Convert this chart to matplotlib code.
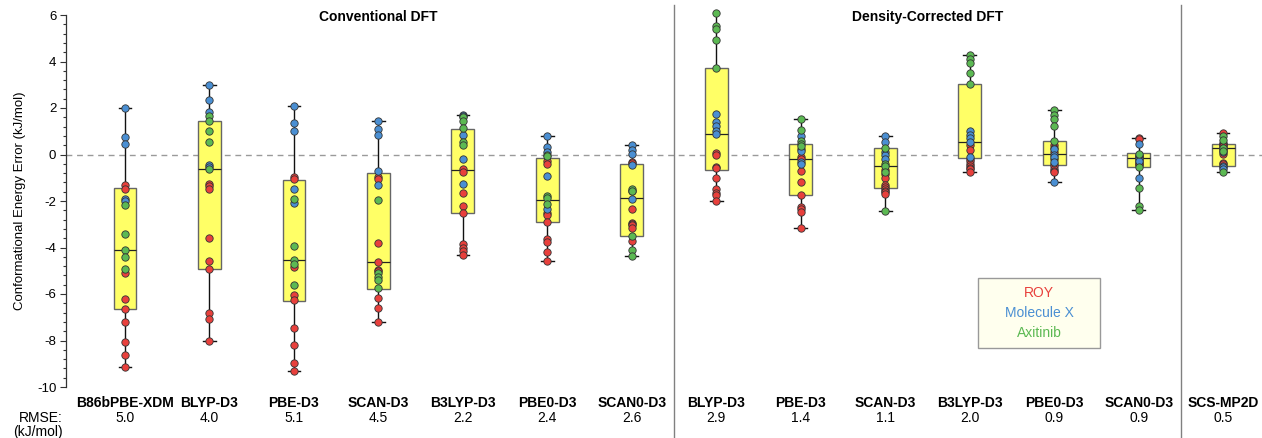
import matplotlib
matplotlib.use("Agg")
import matplotlib.pyplot as plt
import matplotlib.transforms as mtransforms
from matplotlib.patches import Rectangle

plt.rcParams['font.family'] = ['Liberation Sans', 'DejaVu Sans']

methods = ["B86bPBE-XDM", "BLYP-D3", "PBE-D3", "SCAN-D3", "B3LYP-D3", "PBE0-D3", "SCAN0-D3",
           "BLYP-D3", "PBE-D3", "SCAN-D3", "B3LYP-D3", "PBE0-D3", "SCAN0-D3", "SCS-MP2D"]
rmse = ["5.0", "4.0", "5.1", "4.5", "2.2", "2.4", "2.6", "2.9", "1.4", "1.1", "2.0", "0.9", "0.9", "0.5"]

roy_vals = [
    [-1.30, -1.47, -5.11, -6.20, -6.64, -7.19, -8.06, -8.64, -9.13],
    [-1.29, -1.35, -1.47, -3.59, -4.60, -4.91, -6.83, -7.06, -8.04],
    [-0.96, -1.07, -4.86, -6.03, -6.27, -7.46, -8.21, -8.97, -9.33],
    [-0.96, -1.04, -3.79, -4.64, -4.95, -5.00, -6.19, -6.59, -7.21],
    [-0.64, -0.76, -1.64, -2.21, -2.50, -3.86, -4.03, -4.17, -4.31],
    [-0.30, -0.40, -2.50, -2.60, -2.90, -3.64, -3.76, -4.19, -4.60],
    [-0.33, -0.38, -1.57, -2.36, -2.93, -3.00, -3.04, -3.14, -3.71],
    [0.07, 0.00, -0.53, -0.60, -1.00, -1.50, -1.64, -1.76, -2.00],
    [-0.10, -0.21, -0.69, -1.19, -1.76, -2.24, -2.35, -2.47, -3.14],
    [-0.65, -0.86, -1.03, -1.30, -1.39, -1.47, -1.57, -1.62, -1.69],
    [0.39, 0.21, -0.20, -0.29, -0.39, -0.50, -0.58, -0.64, -0.76],
    [0.40, 0.30, 0.11, -0.21, -0.40, -0.50, -0.64, -0.70, -0.76],
    [0.69, 0.65, -0.07, -0.12, -0.16, -0.28, -0.36, -0.42, -0.45],
    [0.93, 0.50, 0.45, 0.40, 0.35, 0.20, 0.04, -0.36, -0.43],
]
molx_vals = [
    [2.00, 0.74, 0.47, -1.90, -1.99],
    [3.01, 2.33, 1.84, -0.46, -0.54],
    [2.10, 1.34, 1.00, -1.50, -2.09],
    [1.43, 1.11, 0.83, -0.71, -1.31],
    [1.71, 1.65, 0.83, -0.21, -1.29],
    [0.81, 0.33, 0.10, -0.91, -2.36],
    [0.39, 0.21, 0.04, -0.44, -1.90],
    [1.76, 1.40, 1.21, 1.03, 0.87],
    [0.79, 0.24, 0.15, -0.31, -0.40],
    [0.81, 0.53, 0.10, -0.03, -0.21],
    [1.03, 0.86, 0.69, 0.53, -0.11],
    [0.24, 0.00, -0.10, -0.33, -1.19],
    [0.47, 0.00, -0.21, -0.30, -1.03],
    [0.30, 0.10, -0.50, -0.54, -0.64],
]
axit_vals = [
    [-2.17, -3.43, -4.10, -4.43, -4.93],
    [1.64, 1.44, 1.03, 0.53, -0.61],
    [-1.90, -3.93, -4.53, -4.71, -5.61],
    [-1.96, -5.11, -5.25, -5.39, -5.76],
    [1.60, 1.45, 1.12, 0.53, 0.39],
    [0.00, -0.07, -1.79, -1.89, -2.14],
    [-1.47, -1.55, -3.50, -4.11, -4.36],
    [6.07, 5.54, 5.40, 4.94, 3.73],
    [1.53, 1.04, 0.57, 0.47, 0.36],
    [0.29, -0.40, -0.50, -0.76, -2.43],
    [4.29, 4.10, 3.93, 3.50, 3.03],
    [1.93, 1.71, 1.54, 1.21, 0.57],
    [0.03, -0.53, -1.43, -2.21, -2.39],
    [0.79, 0.64, 0.26, 0.14, -0.76],
]
# box statistics
q3_vals = [-1.46, 1.44, -1.10, -0.79, 1.10, -0.17, -0.39, 3.74, 0.47, 0.29, 3.03, 0.57, 0.06, 0.47]
med_vals = [-4.11, -0.61, -4.53, -4.64, -0.66, -1.97, -1.89, 0.90, -0.21, -0.51, 0.54, 0.03, -0.16, 0.26]
q1_vals = [-6.64, -4.91, -6.29, -5.79, -2.51, -2.90, -3.50, -0.66, -1.76, -1.44, -0.13, -0.46, -0.54, -0.50]

series_names = ["ROY", "Molecule X", "Axitinib"]

RED = "#E8403C"
BLUE = "#4A8FD3"
GREEN = "#5CB953"
colors = [RED, BLUE, GREEN]

W, H = 1262, 438
fig = plt.figure(figsize=(W / 100, H / 100), dpi=100)
ax = fig.add_axes([66 / W, 1 - 387 / H, 1 - 66 / W, (387 - 15) / H])

positions = list(range(len(methods)))
stats = []
for i in positions:
    allv = roy_vals[i] + molx_vals[i] + axit_vals[i]
    stats.append(dict(med=med_vals[i], q1=q1_vals[i], q3=q3_vals[i],
                      whislo=min(allv), whishi=max(allv), fliers=[]))

ax.axhline(0, color="#9a9a9a", lw=1.0, ls=(0, (4.2, 3.4)), zorder=1)

ax.bxp(stats, positions=positions, widths=0.27, patch_artist=True, showfliers=False,
       capwidths=0.15,
       boxprops=dict(facecolor="#FFFF66", edgecolor="#666666", linewidth=1.0),
       medianprops=dict(color="#222222", linewidth=0.9),
       whiskerprops=dict(color="#111111", linewidth=1.0),
       capprops=dict(color="#111111", linewidth=1.0),
       zorder=2)

for vals, c in zip([roy_vals, molx_vals, axit_vals], colors):
    for i in positions:
        ax.plot([i] * len(vals[i]), vals[i], ls="none", marker="o", ms=5.3,
                mfc=c, mec="#333333", mew=0.6, zorder=3, clip_on=False)

ax.set_xlim(-0.698, 13.46)
ax.set_ylim(-10, 6)
ax.set_yticks(range(-10, 7, 2))
ax.set_yticklabels([str(v) for v in range(-10, 7, 2)])
ax.yaxis.set_minor_locator(matplotlib.ticker.MultipleLocator(0.4))
ax.tick_params(axis="y", which="major", length=4, width=0.8, labelsize=9.5, pad=3, color="#333333")
ax.tick_params(axis="y", which="minor", length=2, width=0.8, color="#333333")
ax.set_xticks([])
for s in ["top", "right", "bottom"]:
    ax.spines[s].set_visible(False)
ax.spines["left"].set_color("#333333")
ax.spines["left"].set_linewidth(0.9)

ax.set_ylabel("Conformational Energy Error (kJ/mol)", fontsize=9.5, labelpad=8)

# section dividers
for xd in [6.5, 12.5]:
    ax.plot([xd, xd], [6.43, -12.2], color="#808080", lw=1.0, clip_on=False, zorder=1)

ax.text(3.0, 0.995, "Conventional DFT", transform=mtransforms.blended_transform_factory(ax.transData, ax.transAxes),
        ha="center", va="center", fontsize=10, fontweight="bold")
ax.text(9.5, 0.995, "Density-Corrected DFT", transform=mtransforms.blended_transform_factory(ax.transData, ax.transAxes),
        ha="center", va="center", fontsize=10, fontweight="bold")

tr = mtransforms.blended_transform_factory(ax.transData, fig.transFigure)
for i in positions:
    ax.text(i, 1 - 403 / H, methods[i], transform=tr, ha="center", va="center",
            fontsize=10, fontweight="bold")
    ax.text(i, 1 - 418 / H, rmse[i], transform=tr, ha="center", va="center", fontsize=10)
fig.text(63 / W, 1 - 418 / H, "RMSE:", ha="right", va="center", fontsize=10)
fig.text(63 / W, 1 - 432 / H, "(kJ/mol)", ha="right", va="center", fontsize=10)

# legend box
lx0, ly0 = (978 - 66) / (W - 66), (387 - 348) / 372
lw_, lh_ = (1100 - 978) / (W - 66), (348 - 278) / 372
ax.add_patch(Rectangle((lx0, ly0), lw_, lh_, transform=ax.transAxes, facecolor="#FFFFEE",
                       edgecolor="#999999", lw=1.0, zorder=4))
for k, (name, c) in enumerate(zip(series_names, colors)):
    ax.text(lx0 + lw_ / 2, ly0 + lh_ * (0.78 - 0.28 * k), name, transform=ax.transAxes,
            ha="center", va="center", color=c, fontsize=10, zorder=5)

fig.savefig("out.png", dpi=100)
